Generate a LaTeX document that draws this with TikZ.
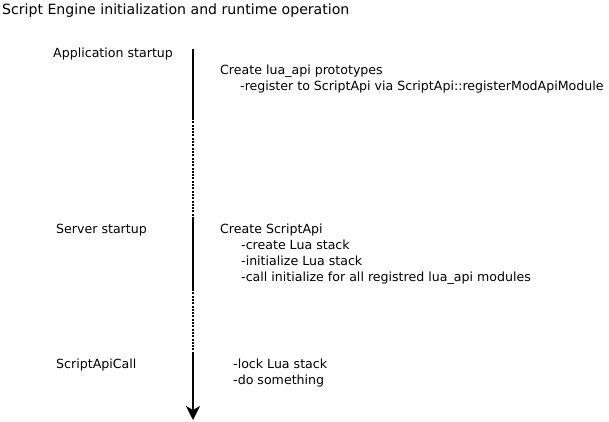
\documentclass[tikz,border=0pt]{standalone}
\usepackage{fontspec}
\setmainfont{DejaVu Sans}
\usetikzlibrary{arrows.meta}
\begin{document}
\begin{tikzpicture}[x=1pt,y=-1pt,
  txt/.style={anchor=base west,inner sep=0pt,font=\fontsize{12.6}{16}\selectfont},
  ttl/.style={anchor=base west,inner sep=0pt,font=\fontsize{14.1}{17}\selectfont},
  solidseg/.style={line width=2pt},
  dotseg/.style={line width=2pt,dash pattern=on 2pt off 1.3pt}]
\useasboundingbox (0,0) rectangle (609,422);
\node[ttl] (title) at (2,15) {Script Engine initialization and runtime operation};
\node[txt] (app) at (53,58) {Application startup};
\node[txt] (c1) at (220,75) {Create lua\_api prototypes};
\node[txt] (c2) at (240,91) {-register to ScriptApi via ScriptApi::registerModApiModule};
\node[txt] (srv) at (56,233) {Server startup};
\node[txt] (d1) at (220,233) {Create ScriptApi};
\node[txt] (d2) at (241,249) {-create Lua stack};
\node[txt] (d3) at (241,265) {-initialize Lua stack};
\node[txt] (d4) at (241,281) {-call initialize for all registred lua\_api modules};
\node[txt] (call) at (56,368) {ScriptApiCall};
\node[txt] (e1) at (233,368) {-lock Lua stack};
\node[txt] (e2) at (233,384) {-do something};
\coordinate (p0) at (193,49);
\coordinate (p1) at (193,118);
\coordinate (p2) at (193,218);
\coordinate (p3) at (193,289);
\coordinate (p4) at (193,353);
\coordinate (p5) at (193,420);
\draw[solidseg] (p0) -- (p1);
\draw[dotseg] (p1) -- (p2);
\draw[solidseg] (p2) -- (p3);
\draw[dotseg] (p3) -- (p4);
\draw[solidseg,-{Stealth[length=14pt,width=14pt,inset=4pt]}] (p4) -- (p5);
\end{tikzpicture}
\end{document}
